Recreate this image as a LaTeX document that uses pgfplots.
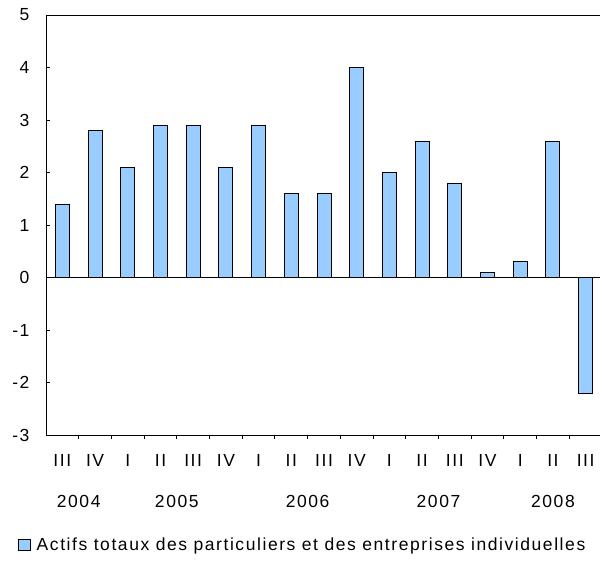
\documentclass[border=0pt]{standalone}
\usepackage{pgfplots}
\pgfplotsset{compat=1.18}
\usepackage{fontspec}
\setmainfont{Liberation Sans}
\newfontfamily\lf[LetterSpace=9]{Liberation Sans}
\newcommand\cf{\lf\fontsize{17.5}{20}\selectfont}
\definecolor{barblue}{HTML}{99CCFF}
\begin{document}
\begin{tikzpicture}
\useasboundingbox (-46pt,-151pt) rectangle (554pt,435pt);
\begin{axis}[
  at={(0,0)}, anchor=south west,
  scale only axis,
  width=556pt, height=420pt,
  xmin=-0.5, xmax=16.5,
  ymin=-3, ymax=5,
  ytick={-3,...,5},
  yticklabels={-3,-2,-1,0,1,2,3,4,5},
  xtick={0,...,16},
  xticklabels={III,IV,I,II,III,IV,I,II,III,IV,I,II,III,IV,I,II,III},
  minor xtick={0.5,1.5,...,15.5},
  major x tick style={draw=none},
  tick style={black, line width=0.9pt},
  minor tick length=4pt,
  major tick length=4pt,
  tick align=inside,
  axis x line*=bottom,
  axis y line*=left,
  axis line style={line width=0.9pt},
  ticklabel style={font=\cf},
  yticklabel style={xshift=-13pt},
  xticklabel style={yshift=-12pt},
  ybar, bar width=14pt,
  legend style={at={(-0.051,-0.262)}, anchor=west, draw=none,
    font=\cf, inner sep=0pt},
  legend image code/.code={\draw[#1, line width=0.8pt] (0pt,-5.5pt) rectangle (12pt,5.5pt); \path (16pt,0pt);},
  clip=false,
]
\addplot[fill=barblue, draw=black, line width=0.9pt] coordinates {
(0,1.4) (1,2.8) (2,2.1) (3,2.9) (4,2.9) (5,2.1) (6,2.9) (7,1.6) (8,1.6)
(9,4.0) (10,2.0) (11,2.6) (12,1.8) (13,0.1) (14,0.3) (15,2.6) (16,-2.2)
};
\addlegendentry{Actifs totaux des particuliers et des entreprises individuelles}
\draw[line width=0.9pt] (rel axis cs:0,1) -- (rel axis cs:1,1);
\draw[line width=0.9pt] (axis cs:-0.5,0) -- (axis cs:16.5,0);
\node[font=\cf] at ([yshift=-66pt]axis cs:0.5,-3) {2004};
\node[font=\cf] at ([yshift=-66pt]axis cs:3.5,-3) {2005};
\node[font=\cf] at ([yshift=-66pt]axis cs:7.5,-3) {2006};
\node[font=\cf] at ([yshift=-66pt]axis cs:11.5,-3) {2007};
\node[font=\cf] at ([yshift=-66pt]axis cs:15,-3) {2008};
\end{axis}
\end{tikzpicture}
\end{document}
